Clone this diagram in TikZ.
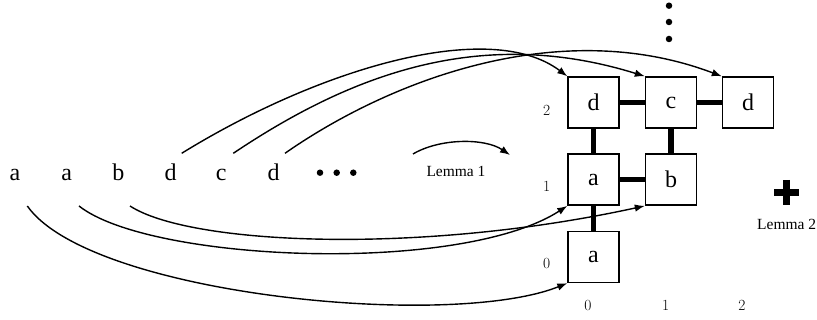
\documentclass[tikz,border=0pt]{standalone}
\usepackage{fontspec}
\newfontfamily\tnr{Liberation Serif}
\usetikzlibrary{arrows.meta}
\begin{document}
\begin{tikzpicture}[x=1pt,y=-1pt,
  cell/.style={draw, line width=1.4pt, minimum size=51pt, inner sep=0pt, fill=white, font=\tnr\fontsize{24}{28}\selectfont},
  seq/.style={anchor=base, inner sep=0pt, font=\tnr\fontsize{24}{28}\selectfont},
  link/.style={line width=5.5pt},
  arc/.style={line width=1.4pt, -{Latex[length=10pt,width=7.5pt]}},
  idx/.style={font=\fontsize{15.5}{18}\selectfont, inner sep=0pt},
  lem/.style={font=\tnr\fontsize{15.5}{18}\selectfont, inner sep=0pt},
  dot/.style={circle, fill, inner sep=0pt, minimum size=6.5pt}]
\useasboundingbox (0,0) rectangle (817,320);
% grid cells
\node[cell] (c20) at (593.5,102.5) {d};
\node[cell] (c21) at (671,102.5) {c};
\node[cell] (c22) at (748,102.5) {d};
\node[cell] (c10) at (593.5,179.7) {a};
\node[cell] (c11) at (671,179.7) {b};
\node[cell] (c00) at (593.5,257) {a};
% indices
\node[idx] (r2) at (546.7,110) {2};
\node[idx] (r1) at (546.7,186.7) {1};
\node[idx] (r0) at (546.7,263.3) {0};
\node[idx] (k0) at (588,305.7) {0};
\node[idx] (k1) at (665.7,305.7) {1};
\node[idx] (k2) at (742,305.7) {2};
% vertical dots
\node[dot] (v1) at (669,5.7) {};
\node[dot] (v2) at (669,22) {};
\node[dot] (v3) at (669,39) {};
% sequence
\node[seq] (s1) at (15,181) {a};
\node[seq] (s2) at (66.7,181) {a};
\node[seq] (s3) at (118.3,181) {b};
\node[seq] (s4) at (170.5,181) {d};
\node[seq] (s5) at (221.3,181) {c};
\node[seq] (s6) at (273.5,181) {d};
\node[dot] (h1) at (320,172.7) {};
\node[dot] (h2) at (336.7,172.7) {};
\node[dot] (h3) at (353.3,172.7) {};
% lemma 1
\node[lem] (lem1) at (456,171.7) {Lemma 1};
\coordinate (l1a) at (413,154);
\coordinate (l1b) at (510,155);
\draw[arc] (l1a) .. controls (440,138) and (485,138) .. (l1b);
% lemma 2
\node[lem] (lem2) at (786.7,224) {Lemma 2};
\draw[line width=7.5pt] (774,192.7) -- (799.3,192.7);
\draw[line width=7.5pt] (786.7,180) -- (786.7,205.5);
% upper curves
\draw[arc] ([shift={(11.2,-27.7)}]s4.base) .. controls (320,68) and (490,18) .. (c20.north west);
\draw[arc] ([shift={(12,-27.7)}]s5.base) .. controls (350,75) and (480,25) .. (c21.north west);
\draw[arc] ([shift={(11.5,-27.7)}]s6.base) .. controls (390,80) and (560,15) .. (c22.north west);
% lower curves
\draw[arc] ([shift={(12.3,25)}]s1.base) .. controls (90,295) and (450,330) .. (c00.south west);
\draw[arc] ([shift={(12.3,25)}]s2.base) .. controls (150,262) and (460,275) .. (c10.south west);
\draw[arc] ([shift={(11.7,25)}]s3.base) .. controls (190,245) and (420,255) .. (c11.south west);
% links
\draw[link] (c20) -- (c21);
\draw[link] (c21) -- (c22);
\draw[link] (c20) -- (c10);
\draw[link] (c21) -- (c11);
\draw[link] (c10) -- (c11);
\draw[link] (c10) -- (c00);
\end{tikzpicture}
\end{document}
